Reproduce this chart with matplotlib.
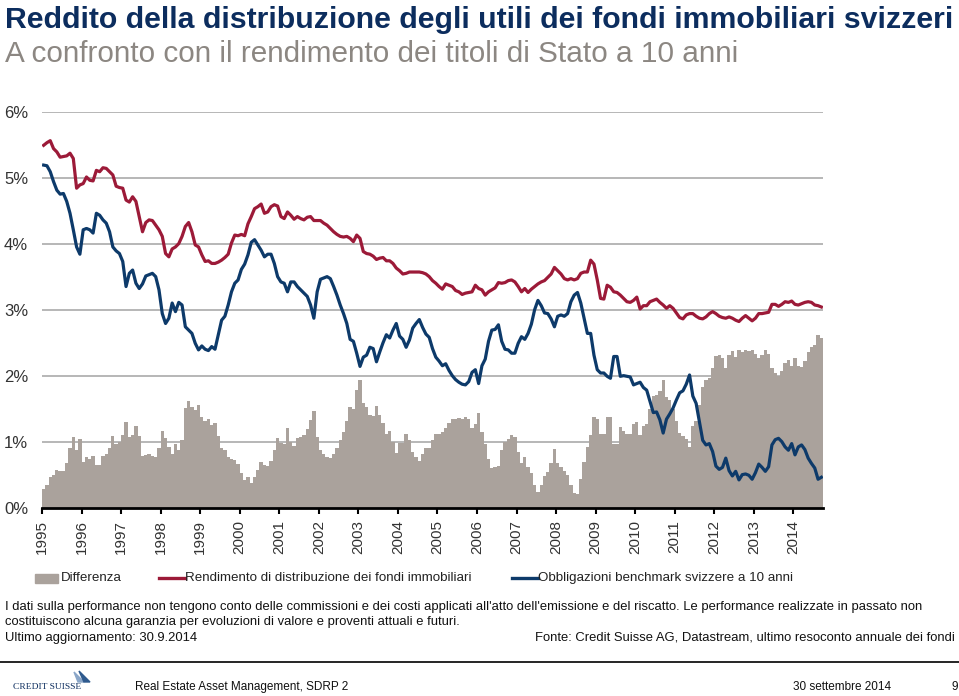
import matplotlib
matplotlib.use("Agg")
from matplotlib import pyplot as plt
from matplotlib.patches import Rectangle, Polygon
from matplotlib.lines import Line2D
import numpy as np

# monthly values, Jan 1995 - Sep 2014 (in %)
fund_yield = [
    5.50, 5.54, 5.57, 5.45, 5.40, 5.32, 5.33, 5.34, 5.38, 5.30, 4.85, 4.90,
    4.92, 5.02, 4.97, 4.96, 5.12, 5.10, 5.16, 5.15, 5.10, 5.05, 4.88, 4.86,
    4.85, 4.67, 4.64, 4.72, 4.65, 4.42, 4.19, 4.33, 4.37, 4.36, 4.29, 4.22,
    4.12, 3.86, 3.81, 3.93, 3.96, 4.01, 4.12, 4.27, 4.33, 4.19, 3.99, 3.96,
    3.84, 3.74, 3.75, 3.71, 3.71, 3.73, 3.76, 3.80, 3.85, 4.02, 4.14, 4.13,
    4.15, 4.13, 4.31, 4.42, 4.54, 4.57, 4.61, 4.47, 4.49, 4.57, 4.60, 4.58,
    4.42, 4.39, 4.49, 4.44, 4.38, 4.42, 4.39, 4.37, 4.41, 4.42, 4.36, 4.36,
    4.36, 4.32, 4.29, 4.24, 4.19, 4.15, 4.12, 4.11, 4.12, 4.09, 4.04, 4.14,
    4.09, 3.89, 3.86, 3.85, 3.82, 3.77, 3.79, 3.80, 3.75, 3.75, 3.71, 3.64,
    3.60, 3.55, 3.56, 3.58, 3.58, 3.58, 3.58, 3.57, 3.55, 3.51, 3.45, 3.41,
    3.36, 3.32, 3.40, 3.38, 3.36, 3.30, 3.28, 3.24, 3.26, 3.27, 3.28, 3.38,
    3.33, 3.31, 3.23, 3.28, 3.31, 3.34, 3.42, 3.41, 3.42, 3.45, 3.46, 3.43,
    3.36, 3.28, 3.33, 3.27, 3.32, 3.36, 3.40, 3.43, 3.45, 3.50, 3.55, 3.65,
    3.60, 3.55, 3.48, 3.46, 3.48, 3.46, 3.48, 3.56, 3.58, 3.58, 3.76, 3.70,
    3.46, 3.18, 3.17, 3.38, 3.35, 3.28, 3.27, 3.23, 3.18, 3.13, 3.12, 3.15,
    3.20, 3.02, 3.07, 3.07, 3.13, 3.15, 3.17, 3.12, 3.08, 3.03, 3.07, 3.03,
    2.96, 2.89, 2.87, 2.93, 2.95, 2.95, 2.91, 2.88, 2.87, 2.90, 2.95, 2.98,
    2.95, 2.91, 2.89, 2.88, 2.90, 2.88, 2.85, 2.83, 2.88, 2.92, 2.88, 2.84,
    2.88, 2.95, 2.95, 2.96, 2.97, 3.09, 3.09, 3.06, 3.09, 3.13, 3.12, 3.14,
    3.09, 3.08, 3.10, 3.12, 3.13, 3.12, 3.08, 3.07, 3.05,
]
bond_yield = [
    5.20, 5.19, 5.10, 4.95, 4.82, 4.76, 4.77, 4.65, 4.47, 4.22, 3.96, 3.85,
    4.22, 4.24, 4.22, 4.17, 4.47, 4.44, 4.37, 4.32, 4.19, 3.96, 3.90, 3.86,
    3.74, 3.36, 3.56, 3.61, 3.41, 3.33, 3.40, 3.52, 3.54, 3.56, 3.51, 3.31,
    2.95, 2.80, 2.88, 3.11, 2.98, 3.12, 3.08, 2.75, 2.70, 2.65, 2.50, 2.40,
    2.46, 2.41, 2.39, 2.45, 2.41, 2.63, 2.85, 2.91, 3.08, 3.28, 3.41, 3.46,
    3.62, 3.70, 3.84, 4.03, 4.07, 3.99, 3.91, 3.81, 3.85, 3.85, 3.71, 3.51,
    3.43, 3.41, 3.28, 3.43, 3.43, 3.36, 3.31, 3.26, 3.21, 3.08, 2.88, 3.28,
    3.47, 3.49, 3.51, 3.48, 3.36, 3.23, 3.08, 2.95, 2.80, 2.56, 2.53, 2.35,
    2.15, 2.29, 2.32, 2.44, 2.42, 2.22, 2.37, 2.51, 2.63, 2.58, 2.70, 2.80,
    2.61, 2.56, 2.44, 2.55, 2.73, 2.80, 2.86, 2.74, 2.64, 2.59, 2.42, 2.29,
    2.23, 2.16, 2.19, 2.09, 2.01, 1.95, 1.91, 1.88, 1.87, 1.92, 2.06, 2.10,
    1.89, 2.16, 2.26, 2.53, 2.70, 2.71, 2.78, 2.53, 2.41, 2.40, 2.35, 2.35,
    2.50, 2.60, 2.56, 2.65, 2.79, 3.01, 3.15, 3.07, 2.96, 2.95, 2.87, 2.75,
    2.91, 2.93, 2.91, 2.95, 3.13, 3.23, 3.27, 3.11, 2.88, 2.65, 2.65, 2.32,
    2.10, 2.05, 2.05, 2.00, 1.97, 2.30, 2.30, 2.00, 2.01, 2.00, 1.99, 1.87,
    1.89, 1.91, 1.83, 1.79, 1.62, 1.45, 1.46, 1.34, 1.14, 1.35, 1.43, 1.52,
    1.64, 1.75, 1.78, 1.88, 2.02, 1.70, 1.59, 1.31, 1.03, 0.96, 0.98, 0.86,
    0.64, 0.59, 0.62, 0.76, 0.57, 0.49, 0.56, 0.43, 0.51, 0.52, 0.50, 0.44,
    0.54, 0.67, 0.62, 0.56, 0.63, 0.96, 1.04, 1.06, 1.01, 0.93, 0.88, 0.98,
    0.81, 0.93, 0.96, 0.89, 0.76, 0.68, 0.61, 0.44, 0.47,
]
years = list(range(1995, 2015))
y_ticks = [0, 1, 2, 3, 4, 5, 6]

RED = "#9c1a38"
BLUE = "#0d3a6a"
GRAY = "#aaa29c"
NAVY = "#0c2d5e"

plt.rcParams['font.family'] = ['Liberation Sans Narrow', 'Liberation Sans', 'DejaVu Sans']

fund = np.array(fund_yield)
bond = np.array(bond_yield)
diff = fund - bond
t = 1995 + (np.arange(len(fund)) + 0.5) / 12

W, H = 959, 696
fig = plt.figure(figsize=(W / 100, H / 100), dpi=100)
ax = fig.add_axes([42 / W, (H - 508.3) / H, (823 - 42) / W, 396 / H])

ax.bar(t, diff, width=1 / 12, color=GRAY, linewidth=0, zorder=2)
ax.plot(t, fund, color=RED, lw=2.3, zorder=3, solid_joinstyle='round')
ax.plot(t, bond, color=BLUE, lw=2.3, zorder=3, solid_joinstyle='round')

ax.set_xlim(1995, 1995 + len(fund) / 12)
ax.set_ylim(0, 6)
ax.set_yticks(y_ticks)
ax.set_yticklabels([f"{v}%" for v in y_ticks], family='Liberation Sans', fontsize=12, color='#333333')
ax.tick_params(axis='y', length=0, pad=10)
ax.yaxis.grid(True, color='#a3a3a3', lw=1.1, zorder=0)
ax.set_axisbelow(True)

ax.set_xticks(years)
ax.set_xticklabels([str(y) for y in years], rotation=90, family='Liberation Sans', fontsize=11, color='#333333')
ax.tick_params(axis='x', direction='out', length=4.5, width=1.5, color='black', pad=4)

for s in ['top', 'right', 'left']:
    ax.spines[s].set_visible(False)
ax.spines['bottom'].set_linewidth(2)
ax.spines['bottom'].set_color('black')
ax.spines['bottom'].set_zorder(4)

# titles
fig.text(5 / W, (H - 28) / H, "Reddito della distribuzione degli utili dei fondi immobiliari svizzeri",
         fontsize=21.75, fontweight='bold', color=NAVY, va='baseline')
fig.text(5 / W, (H - 62) / H, "A confronto con il rendimento dei titoli di Stato a 10 anni",
         fontsize=21.4, color='#8c8782', va='baseline')

# legend
ly = (H - 578) / H
fig.add_artist(Rectangle((35 / W, (H - 583) / H), 23 / W, 9 / H, color=GRAY, transform=fig.transFigure))
fig.text(61 / W, ly, "Differenza", fontsize=9.6, color='#222222', va='center')
fig.add_artist(Line2D([159 / W, 185 / W], [ly, ly], color=RED, lw=2.4, transform=fig.transFigure))
fig.text(185 / W, ly, "Rendimento di distribuzione dei fondi immobiliari", fontsize=9.6, color='#222222', va='center')
fig.add_artist(Line2D([512 / W, 538 / W], [ly, ly], color=BLUE, lw=2.4, transform=fig.transFigure))
fig.text(538 / W, ly, "Obbligazioni benchmark svizzere a 10 anni", fontsize=9.6, color='#222222', va='center')

# notes
fig.text(5 / W, (H - 607) / H, "I dati sulla performance non tengono conto delle commissioni e dei costi applicati "
         "all'atto dell'emissione e del riscatto. Le performance realizzate in passato non",
         fontsize=9.35, color='#111111', va='center')
fig.text(5 / W, (H - 622) / H, "costituiscono alcuna garanzia per evoluzioni di valore e proventi attuali e futuri.",
         fontsize=9.35, color='#111111', va='center')
fig.text(5 / W, (H - 638) / H, "Ultimo aggiornamento: 30.9.2014", fontsize=9.35, color='#111111', va='center')
fig.text(955 / W, (H - 638) / H, "Fonte: Credit Suisse AG, Datastream, ultimo resoconto annuale dei fondi",
         fontsize=9.35, color='#111111', va='center', ha='right')

fig.add_artist(Line2D([0, 1], [(H - 662) / H, (H - 662) / H], color='black', lw=1.2, transform=fig.transFigure))

# footer
fy = (H - 687) / H
fig.text(13 / W, fy, "CREDIT SUISSE", family='Liberation Serif', fontsize=6.8, color=NAVY, va='center')
fig.add_artist(Polygon([(74 / W, (H - 672) / H), (84 / W, (H - 682) / H), (78 / W, (H - 682) / H)],
                       closed=True, color='#8aa6c8', transform=fig.transFigure))
fig.add_artist(Polygon([(79 / W, (H - 671) / H), (90 / W, (H - 682) / H), (84 / W, (H - 682) / H)],
                       closed=True, color='#2f5a8e', transform=fig.transFigure))
fig.text(135 / W, fy, "Real Estate Asset Management, SDRP 2", fontsize=8.5, color='#111111', va='center')
fig.text(793 / W, fy, "30 settembre 2014", fontsize=8.5, color='#111111', va='center')
fig.text(958 / W, fy, "9", fontsize=8.5, color='#111111', va='center', ha='right')

fig.savefig("out.png", dpi=100)
